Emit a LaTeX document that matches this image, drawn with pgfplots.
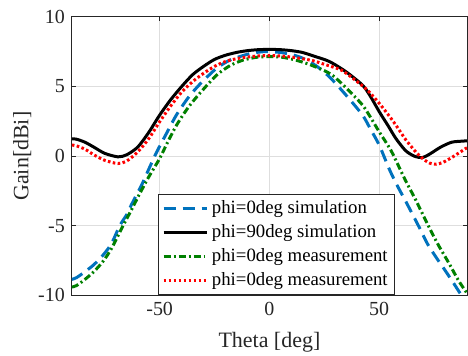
\documentclass[border=0pt]{standalone}
\usepackage{fontspec}
\setmainfont{Liberation Serif}
\usepackage{pgfplots}
\pgfplotsset{compat=1.18}
\definecolor{mblue}{rgb}{0,0.447,0.741}
\definecolor{mgreen}{rgb}{0,0.5,0}
\definecolor{axgray}{rgb}{0.15,0.15,0.15}
\begin{document}
\begin{tikzpicture}
\begin{axis}[
 scale only axis, width=198pt, height=139.5pt,
 xmin=-90, xmax=90, ymin=-10, ymax=10,
 xtick={-50,0,50}, ytick={-10,-5,0,5,10},
 tick align=inside, major tick length=2pt,
 grid=major, grid style={line width=0.5pt, color=black!13},
 axis line style={axgray, line width=0.5pt},
 tick style={axgray, line width=0.5pt},
 /pgf/number format/assume math mode=true,
 tick label style={font=\fontsize{10}{12}\selectfont, text=axgray},
 label style={font=\fontsize{11}{13}\selectfont, text=axgray},
 xlabel={Theta [deg]}, ylabel={Gain[dBi]},
 xlabel style={at={(axis description cs:0.5,-0.1864)}, anchor=base},
 ylabel style={at={(axis description cs:-0.1098,0.5)}, anchor=base},
 legend cell align=left,
 legend style={at={(rel axis cs:0.217,0)}, anchor=south west,
   draw=axgray, line width=0.5pt, font=\fontsize{9.4}{10}\selectfont,
   inner xsep=2pt, inner ysep=1.2pt, row sep=0pt,
   nodes={inner sep=1.5pt, text height=7pt, text depth=2pt}},
 legend image code/.code={\draw[#1] (0pt,0pt) -- (22pt,0pt);},
 every axis plot/.append style={line width=1.5pt, smooth, tension=0.45},
]
\addplot[mblue, dash pattern=on 6pt off 3.5pt] coordinates {
(-90,-8.85) (-87.9,-8.73) (-84,-8.3) (-80,-7.8) (-76,-7.15) (-72,-6.3)
(-68.2,-5.0) (-65,-4.2) (-62.9,-3.5) (-58,-2.0) (-55,-0.95) (-51.5,0.25)
(-47,1.6) (-42.4,2.95) (-37,4.2) (-31.8,5.15) (-24.2,6.3) (-18,6.9)
(-13.6,7.15) (-8,7.4) (-3,7.5) (0,7.5) (5,7.45) (10,7.3) (15,7.05)
(21.2,6.5) (27.3,5.7) (34.8,4.4) (42.4,2.95) (46,1.95) (50,0.8)
(54.5,-0.9) (58,-2.05) (62.1,-3.25) (68.2,-5.1) (72,-6.3) (75.8,-7.24)
(80,-8.2) (84,-9.15) (87.1,-9.9) (90,-10.4)
};
\addlegendentry{phi=0deg simulation}
\addplot[black] coordinates {
(-90,1.25) (-87.9,1.22) (-84,1.0) (-80,0.65) (-75,0.2) (-69,-0.05)
(-65,0.1) (-60,0.65) (-55,1.7) (-50,2.95) (-45,4.05) (-40,5.0)
(-35,5.85) (-30,6.45) (-25,6.95) (-20,7.25) (-15,7.45) (-10,7.58)
(-5,7.65) (0,7.67) (5,7.65) (10,7.58) (15,7.45) (20,7.2) (27.3,6.8)
(35,6.05) (42.4,5.1) (46,4.3) (50,3.2) (54,2.2) (57.6,1.27) (62,0.4)
(66,0.0) (69.7,-0.1) (73,0.15) (78,0.65) (83,1.0) (87.9,1.08) (90,1.1)
};
\addlegendentry{phi=90deg simulation}
\addplot[mgreen, dash pattern=on 3.5pt off 1.5pt on 1pt off 1.5pt] coordinates {
(-90,-9.4) (-87.9,-9.3) (-84,-8.85) (-80,-8.3) (-76,-7.6) (-72,-6.65)
(-66.7,-5.0) (-63,-3.9) (-59.1,-2.7) (-55,-1.5) (-50,-0.17) (-47,0.8)
(-42.4,2.2) (-37,3.5) (-31.8,4.5) (-24.2,5.8) (-18,6.5) (-12,6.9)
(-6,7.1) (0,7.15) (6,7.1) (12,6.9) (18,6.6) (24.2,6.2) (28.8,5.8)
(35,4.9) (42.4,3.67) (46,2.8) (50,1.75) (55.3,0.43) (59.1,-0.8)
(62,-1.75) (66.7,-3.17) (72.7,-5.1) (77,-6.4) (81.8,-7.7) (86,-8.9) (90,-9.85)
};
\addlegendentry{phi=0deg measurement}
\addplot[red, dash pattern=on 1.3pt off 1.2pt] coordinates {
(-90,0.8) (-87.9,0.74) (-84,0.5) (-80,0.1) (-75,-0.3) (-69,-0.53)
(-65,-0.35) (-60,0.3) (-55,1.25) (-50,2.47) (-45,3.6) (-40,4.6)
(-35,5.35) (-30,5.95) (-25,6.45) (-20,6.8) (-15,7.0) (-10,7.12)
(-5,7.2) (0,7.22) (5,7.2) (10,7.12) (15,7.0) (20,6.85) (25,6.6)
(31.8,6.25) (35,5.95) (42.4,5.05) (45.5,4.6) (50,3.8) (54,3.0) (57.6,2.23)
(62,1.2) (66.7,0.3) (70,-0.2) (73,-0.5) (75.8,-0.58) (79,-0.45)
(83,-0.1) (86,0.2) (89.4,0.55) (90,0.6)
};
\addlegendentry{phi=0deg measurement}
\end{axis}
\pgfresetboundingbox
\path (-36pt,-30pt) rectangle (198.5pt,148pt);
\end{tikzpicture}
\end{document}
